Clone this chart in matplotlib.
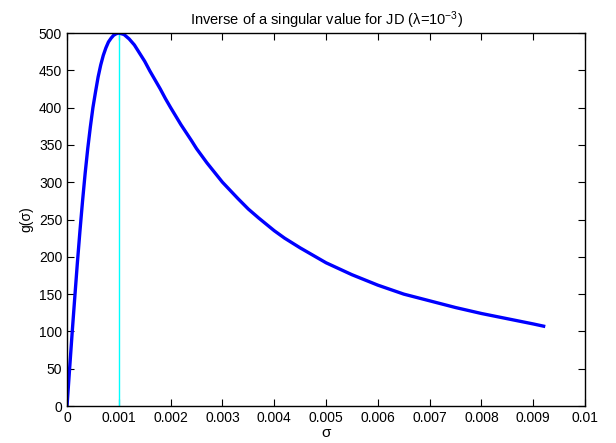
import matplotlib
matplotlib.use("Agg")
import matplotlib.pyplot as plt

plt.rcParams['font.family'] = ['Liberation Sans', 'DejaVu Sans']
plt.rcParams['mathtext.fontset'] = 'custom'
plt.rcParams['mathtext.rm'] = 'Liberation Sans'
plt.rcParams['mathtext.it'] = 'Liberation Sans'

# values
sigma = [0, 0.00005, 0.0001, 0.00015, 0.0002, 0.00025, 0.0003, 0.00035,
         0.0004, 0.00045, 0.0005, 0.00055, 0.0006, 0.00065, 0.0007, 0.00075,
         0.0008, 0.00085, 0.0009, 0.00095, 0.001, 0.0011, 0.0012, 0.0013,
         0.0014, 0.0015, 0.0016, 0.0017, 0.0018, 0.0019, 0.002, 0.0022,
         0.0024, 0.0025, 0.0027, 0.003, 0.0033, 0.0035, 0.0037, 0.004,
         0.0042, 0.0045, 0.005, 0.0055, 0.006, 0.0065, 0.007, 0.0075,
         0.008, 0.0085, 0.009, 0.0092]
g = [0, 50, 99, 146, 192, 235, 275, 312, 345, 374, 400, 421, 441, 457, 470,
     480, 488, 493, 497, 499, 500, 498, 492, 484, 473, 462, 449, 437, 425,
     412, 400, 377, 356, 345, 326, 300, 278, 264, 252, 235, 225, 212, 192,
     176, 162, 150, 141, 132, 124, 117, 110, 107]
peak_sigma = 0.001
peak_g = 500

xticks = [0, 0.001, 0.002, 0.003, 0.004, 0.005, 0.006, 0.007, 0.008, 0.009, 0.01]
xticklabels = ['0', '0.001', '0.002', '0.003', '0.004', '0.005', '0.006',
               '0.007', '0.008', '0.009', '0.01']
yticks = list(range(0, 501, 50))

fig = plt.figure(figsize=(6.16, 4.43), dpi=100)
ax = fig.add_axes([0.1088, 0.0835, 0.841, 0.842])

ax.plot([peak_sigma, peak_sigma], [0, peak_g], color='cyan', lw=1)
ax.plot(sigma, g, color='blue', lw=2.4)

ax.set_xlim(0, 0.01)
ax.set_ylim(0, 500)
ax.set_xticks(xticks)
ax.set_xticklabels(xticklabels)
ax.set_yticks(yticks)
ax.tick_params(direction='in', top=True, right=True, labelsize=10, length=5)
for s in ax.spines.values():
    s.set_linewidth(1)

ax.set_title(r'Inverse of a singular value for JD ($\lambda$=10$^{-3}$)', fontsize=10.5)
ax.set_xlabel('σ', fontsize=11, labelpad=1)
ax.set_ylabel('g(σ)', fontsize=10)

fig.savefig('out.png', dpi=100)
